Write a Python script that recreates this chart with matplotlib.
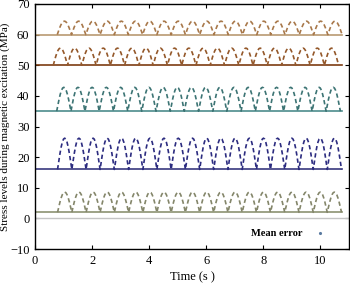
import numpy as np
import matplotlib
matplotlib.use("Agg")
import matplotlib.pyplot as plt
from matplotlib.lines import Line2D

plt.rcParams['font.family'] = ['Liberation Serif', 'DejaVu Serif']

# baseline stress levels (MPa) and peak of the dashed arches
baselines = [60, 50, 35, 16, 2]
peaks = [64.4, 55.6, 42.8, 26.2, 8.6]
line_colors = ['#b99a72', '#7d3c12', '#4d8c8c', '#38387e', '#8c9272']
dash_colors = ['#a8784a', '#94582a', '#3c7474', '#2c2c80', '#84866a']

# cusp times (s) of each series
cusps_tan = [0.78, 1.28, 1.78, 2.28, 2.78, 3.27, 3.77, 4.27, 4.77, 5.27, 5.77,
             6.27, 6.77, 7.27, 7.77, 8.26, 8.76, 9.26, 9.76, 10.26, 10.76]
cusps_brown = [0.64, 1.14, 1.64, 2.14, 2.64, 3.14, 3.64, 4.14, 4.64, 5.14, 5.64,
               6.14, 6.64, 7.14, 7.64, 8.14, 8.64, 9.14, 9.64, 10.14, 10.64]
cusps_teal = [0.76, 1.26, 1.75, 2.25, 2.75, 3.25, 3.74, 4.24, 4.74, 5.23, 5.73,
              6.23, 6.72, 7.22, 7.72, 8.22, 8.71, 9.21, 9.71, 10.20, 10.70]
cusps_navy = [0.79, 1.29, 1.79, 2.28, 2.78, 3.28, 3.78, 4.27, 4.77, 5.27, 5.77,
              6.26, 6.76, 7.26, 7.76, 8.25, 8.75, 9.25, 9.75, 10.24, 10.74]
cusps_olive = [0.79, 1.29, 1.79, 2.28, 2.78, 3.28, 3.78, 4.27, 4.77, 5.27, 5.77,
               6.26, 6.76, 7.26, 7.76, 8.25, 8.75, 9.25, 9.75, 10.24, 10.74]
all_cusps = [cusps_tan, cusps_brown, cusps_teal, cusps_navy, cusps_olive]

# relative height of one arch (rectified hump shape)
arch_profile = [0.0, 0.26, 0.5, 0.71, 0.87, 0.97, 1.0, 0.97, 0.87, 0.71, 0.5, 0.26, 0.0]

line_end = 10.76
x_ticks = [0, 2, 4, 6, 8, 10]
y_ticks = [-10, 0, 10, 20, 30, 40, 50, 60, 70]

fig = plt.figure(figsize=(3.5, 2.85), dpi=100)
ax = fig.add_axes([0.1, 0.126, 0.897, 0.86])

# zero line
ax.plot([0, 11], [0, 0], color='#c4c4c4', lw=1.0)

prof = np.array(arch_profile)
frac = np.linspace(0, 1, len(prof))
for base, peak, lc, dc, cusps in zip(baselines, peaks, line_colors, dash_colors, all_cusps):
    ax.plot([0, line_end], [base, base], color=lc, lw=1.2, zorder=2)
    xs, ys = [], []
    for c0, c1 in zip(cusps[:-1], cusps[1:]):
        xs.extend(c0 + frac * (c1 - c0))
        ys.extend(base + prof * (peak - base))
    ax.plot(xs, ys, color=dc, lw=1.2, ls=(0, (2.6, 1.8)), zorder=3)

ax.set_xlim(0, 11)
ax.set_ylim(-10, 70)
ax.set_xticks(x_ticks)
ax.set_yticks(y_ticks)
ax.tick_params(direction='in', top=True, right=True, labelsize=9, length=3, pad=4)
ax.set_xlabel('Time (s )', fontsize=9, labelpad=3)
ax.set_ylabel('Stress levels during magnetic excitation (MPa)', fontsize=8)
ax.yaxis.set_label_coords(-0.08, 0.5)
for s in ax.spines.values():
    s.set_linewidth(1.0)

handle = Line2D([], [], ls='none', marker='.', ms=2.5, color='#5a7aa0')
ax.legend([handle], ['Mean error'], loc='lower right', markerfirst=False, frameon=False,
          prop={'weight': 'bold', 'size': 7.5}, bbox_to_anchor=(0.955, 0.005),
          handlelength=1.0, handletextpad=1.2)

fig.savefig('out.png', dpi=100)
